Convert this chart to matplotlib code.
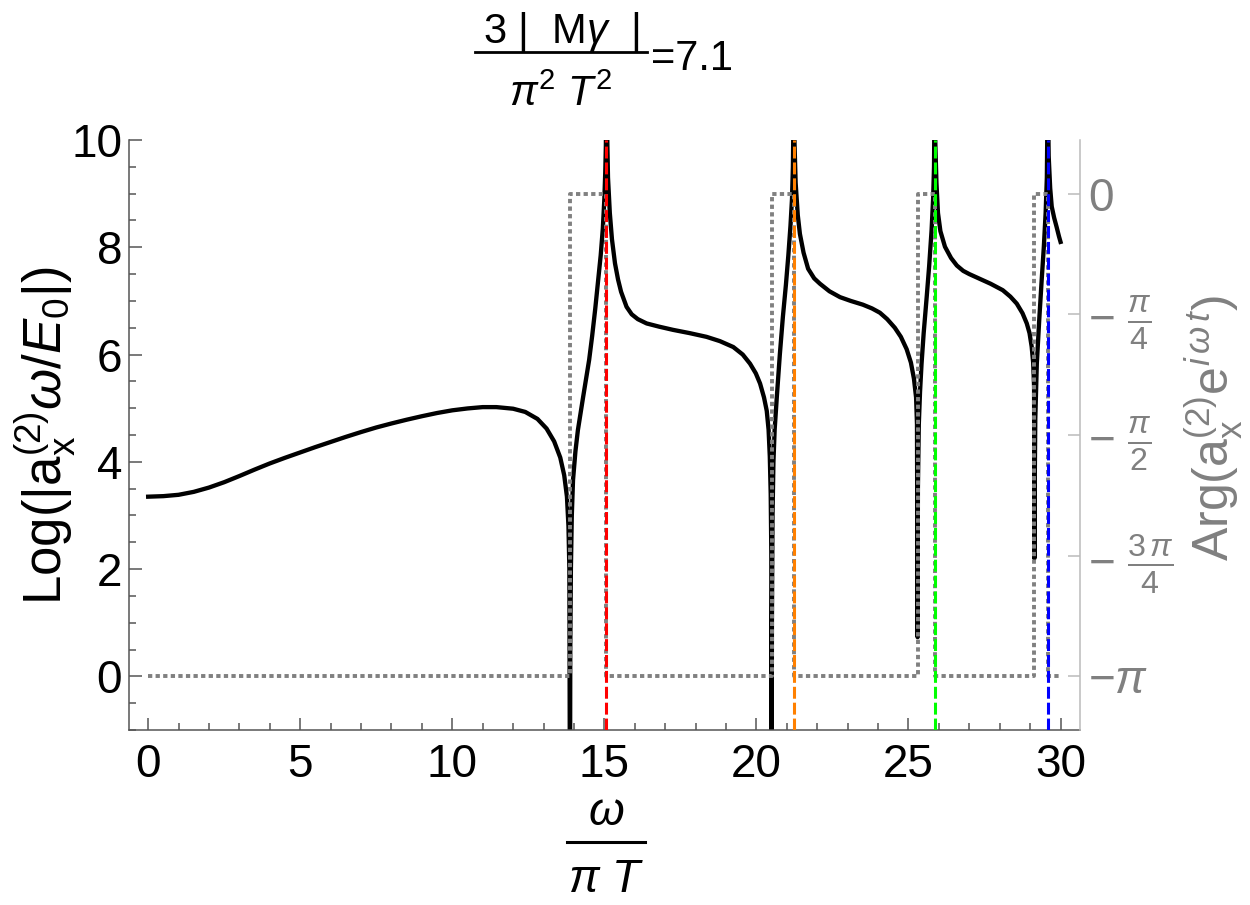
import numpy as np
import matplotlib
matplotlib.use("Agg")
import matplotlib.pyplot as plt
from matplotlib.lines import Line2D

plt.rcParams['font.family'] = ['Liberation Sans', 'DejaVu Sans']
plt.rcParams['mathtext.fontset'] = 'custom'
plt.rcParams['mathtext.rm'] = 'Liberation Sans'
plt.rcParams['mathtext.it'] = 'Liberation Sans:italic'
plt.rcParams['mathtext.bf'] = 'Liberation Sans:bold'

# ---- data ----
# magnitude curve, segment by segment (between the anti-resonance dips)
seg1_x = [0, 0.5, 1, 1.5, 2, 2.5, 3, 3.5, 4, 4.5, 5, 5.5, 6, 6.5, 7, 7.5, 8, 8.5, 9, 9.5, 10, 10.5,
          11, 11.45, 12, 12.4, 12.8, 13.1, 13.35, 13.55, 13.68, 13.77, 13.82, 13.85, 13.87]
seg1_y = [3.35, 3.36, 3.385, 3.44, 3.52, 3.62, 3.735, 3.855, 3.97, 4.075, 4.175, 4.275, 4.37, 4.465, 4.555, 4.64,
          4.715, 4.785, 4.85, 4.91, 4.96, 4.995, 5.02, 5.02, 4.99, 4.93, 4.80, 4.62, 4.38, 4.08, 3.75, 3.35, 2.8, 2.0, -3.0]
seg2_x = [13.88, 13.9, 13.93, 13.97, 14.05, 14.13, 14.22, 14.3, 14.4, 14.5, 14.6, 14.7, 14.8, 14.88, 14.95, 15.0,
          15.03, 15.05, 15.07, 15.09, 15.12, 15.18, 15.25, 15.35, 15.45, 15.55, 15.73, 15.9, 16.1, 16.39, 16.8,
          17.26, 17.8, 18.36, 18.8, 19.24, 19.55, 19.79, 19.98, 20.12, 20.25, 20.34, 20.4, 20.44, 20.47, 20.49, 20.5]
seg2_y = [0.5, 2.0, 3.0, 3.66, 4.2, 4.59, 4.92, 5.2, 5.55, 5.9, 6.35, 6.85, 7.4, 7.85, 8.35, 8.9,
          9.4, 9.9, 11.0, 10.2, 9.3, 8.64, 8.15, 7.7, 7.4, 7.17, 6.89, 6.75, 6.66, 6.58, 6.52,
          6.46, 6.40, 6.33, 6.25, 6.14, 6.0, 5.83, 5.65, 5.46, 5.2, 4.95, 4.6, 4.1, 3.4, 2.3, -3.0]
seg3_x = [20.51, 20.53, 20.56, 20.6, 20.67, 20.77, 20.87, 20.97, 21.05, 21.12, 21.17, 21.2, 21.23, 21.25, 21.29,
          21.36, 21.43, 21.55, 21.7, 21.9, 22.09, 22.4, 22.75, 23.1, 23.5, 23.8, 24.06, 24.3, 24.55, 24.75,
          24.94, 25.08, 25.18, 25.25, 25.28, 25.3]
seg3_y = [1.0, 3.0, 4.0, 4.6, 5.2, 6.0, 6.7, 7.3, 7.85, 8.4, 8.9, 9.5, 11.0, 10.0, 9.2,
          8.6, 8.25, 7.9, 7.6, 7.42, 7.32, 7.18, 7.07, 7.0, 6.93, 6.86, 6.78, 6.66, 6.5, 6.33,
          6.1, 5.85, 5.55, 5.2, 4.7, 0.73]
seg4_x = [25.31, 25.34, 25.38, 25.43, 25.5, 25.6, 25.68, 25.76, 25.81, 25.84, 25.86, 25.88, 25.92, 25.97, 26.05,
          26.2, 26.4, 26.59, 26.8, 27.0, 27.35, 27.7, 28.1, 28.35, 28.56, 28.75, 28.89, 28.98, 29.05, 29.1,
          29.13, 29.14]
seg4_y = [3.5, 4.7, 5.3, 5.83, 6.4, 7.08, 7.65, 8.32, 8.9, 9.5, 11.0, 10.0, 9.2, 8.64, 8.3,
          8.01, 7.8, 7.66, 7.56, 7.5, 7.41, 7.32, 7.2, 7.08, 6.95, 6.77, 6.58, 6.4, 6.15, 5.85,
          5.4, 2.2]
seg5_x = [29.15, 29.17, 29.22, 29.3, 29.38, 29.45, 29.51, 29.55, 29.58, 29.61, 29.66, 29.71, 29.79, 29.87, 29.95, 30.0]
seg5_y = [3.5, 4.8, 5.83, 6.65, 7.39, 8.0, 8.64, 9.3, 11.0, 9.7, 9.1, 8.76, 8.55, 8.38, 8.2, 8.1]

# phase (Arg) step curve
phase_x = [0, 13.87, 13.87, 15.07, 15.07, 20.50, 20.50, 21.23, 21.23, 25.30, 25.30, 25.86, 25.86, 29.14, 29.14, 29.58, 29.58, 30.0]
phase_y = [-np.pi, -np.pi, 0, 0, -np.pi, -np.pi, 0, 0, -np.pi, -np.pi, 0, 0, -np.pi, -np.pi, 0, 0, -np.pi, -np.pi]

# resonance markers
res_x = [15.07, 21.23, 25.86, 29.58]
res_colors = ['#FF0000', '#FF8000', '#00FF00', '#0000FF']

# axis ticks
xticks = [0, 5, 10, 15, 20, 25, 30]
yticks = [0, 2, 4, 6, 8, 10]
phase_ticks = [0, -np.pi / 4, -np.pi / 2, -3 * np.pi / 4, -np.pi]
phase_labels = ['0', r'$-\ \frac{\pi}{4}$', r'$-\ \frac{\pi}{2}$', r'$-\ \frac{3\,\pi}{4}$', r'$-\pi$']

mag_x = seg1_x + seg2_x + seg3_x + seg4_x + seg5_x
mag_y = seg1_y + seg2_y + seg3_y + seg4_y + seg5_y

W, H = 1250, 905
fig = plt.figure(figsize=(W / 100, H / 100), dpi=100)
ax = fig.add_axes([129 / W, 1 - 730 / H, (1080 - 129) / W, (730 - 140) / H])

dark = '#555555'
ax.plot(mag_x, mag_y, color='black', lw=3.1, solid_joinstyle='round', zorder=2)
ax.set_xlim(-0.63, 30.64)
ax.set_ylim(-1, 10)
ax.set_xticks(xticks)
ax.set_yticks(yticks)
ax.set_xticks(np.arange(0, 31, 1), minor=True)
ax.set_yticks(np.arange(-1, 10.01, 0.5), minor=True)
ax.tick_params(which='both', direction='in', color=dark, width=1.1, labelsize=33, top=False, right=False)
ax.tick_params(which='major', length=9)
ax.tick_params(which='minor', length=5)
ax.tick_params(axis='x', pad=9)
ax.tick_params(axis='y', pad=5)
for s in ['top', 'right']:
    ax.spines[s].set_visible(False)
for s in ['left', 'bottom']:
    ax.spines[s].set_color(dark)
    ax.spines[s].set_linewidth(1.1)

ax2 = ax.twinx()
ax2.set_ylim(-np.pi * 10 / 9, np.pi / 9)
ax2.plot(phase_x, phase_y, color='#808080', lw=2.8, linestyle=(0, (1.1, 0.85)),
         dash_capstyle='butt', zorder=3)
for xr, c in zip(res_x, res_colors):
    ax2.axvline(xr, color=c, lw=2.2, linestyle=(0, (3.9, 1.3)), zorder=4)
ax2.set_yticks(phase_ticks)
ax2.set_yticklabels(phase_labels)
ax2.tick_params(axis='y', direction='in', length=9, width=1.1, color='#bbbbbb',
                labelcolor='#808080', labelsize=33, pad=6)
for s in ['top', 'left', 'bottom']:
    ax2.spines[s].set_visible(False)
ax2.spines['right'].set_color('#bbbbbb')
ax2.spines['right'].set_linewidth(1.1)

# axis labels
fig.text(45 / W, 1 - 436 / H, r"Log(|a$_{\mathrm{x}}^{\mathrm{(2)}}\omega/E_{\mathrm{0}}$|)",
         rotation=90, ha='center', va='center', fontsize=38, color='black')
fig.text(1214 / W, 1 - 428 / H, r"Arg(a$_{\mathrm{x}}^{\mathrm{(2)}}\mathrm{e}^{i\,\omega\,t}$)",
         rotation=90, ha='center', va='center', fontsize=36, color='#808080')

# x label as a built fraction: omega over pi T
fig.text(606 / W, 1 - 825 / H, r"$\omega$", ha='center', va='baseline', fontsize=33)
fig.add_artist(Line2D([567 / W, 645 / W], [1 - 842 / H, 1 - 842 / H], transform=fig.transFigure,
                      color='black', lw=2.2))
fig.text(606 / W, 1 - 892 / H, r"$\pi\ T$", ha='center', va='baseline', fontsize=33)

# title as a built fraction
fig.text(561 / W, 1 - 43 / H, r"3 |  M$\gamma$  |", ha='center', va='baseline', fontsize=30)
fig.add_artist(Line2D([475 / W, 647 / W], [1 - 52 / H, 1 - 52 / H], transform=fig.transFigure,
                      color='black', lw=2.0))
fig.text(561 / W, 1 - 106 / H, r"$\pi^{2}\ T^{2}$", ha='center', va='baseline', fontsize=30)
fig.text(651 / W, 1 - 70 / H, "=7.1", ha='left', va='baseline', fontsize=30)

fig.savefig('out.png', dpi=100)
